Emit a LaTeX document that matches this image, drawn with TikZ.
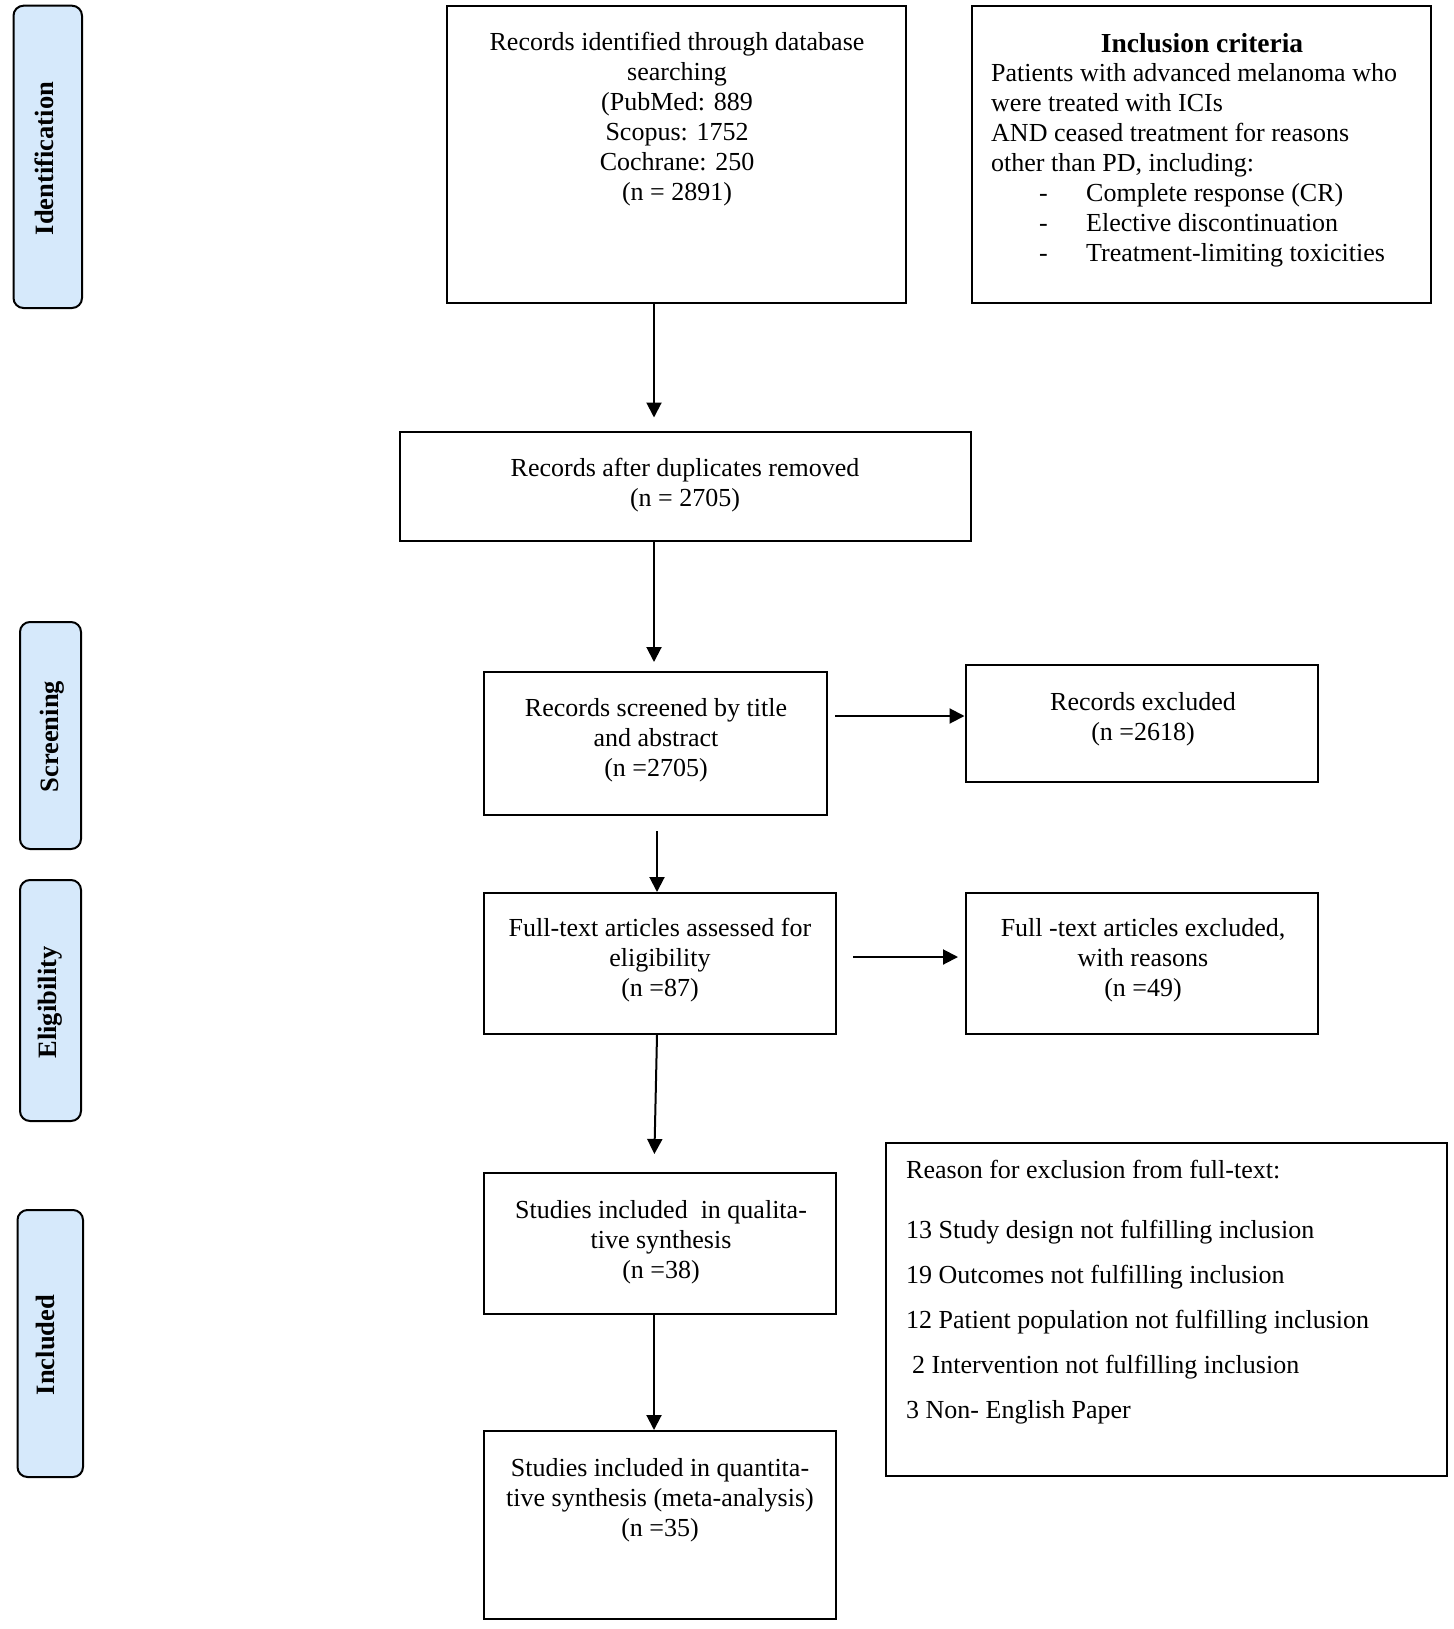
\documentclass[tikz,border=0pt]{standalone}
\usepackage{fontspec}
\setmainfont{Liberation Serif}
\usetikzlibrary{arrows.meta,fit}
\definecolor{phasefill}{RGB}{214,233,251}
\begin{document}
\begin{tikzpicture}[x=1pt,y=-1pt,
  box/.style={draw, line width=2pt, inner sep=0pt},
  phasebox/.style={draw, line width=2pt, fill=phasefill, rounded corners=10pt, inner sep=0pt},
  plabel/.style={font=\fontsize{26.5}{30}\selectfont\bfseries, rotate=90, anchor=base, inner sep=0pt},
  txt/.style={font=\fontsize{26}{30}\selectfont, align=center, inner sep=0pt, anchor=north},
  ltxt/.style={font=\fontsize{26}{30}\selectfont, align=left, inner sep=0pt, anchor=north west},
  arr/.style={line width=2pt, -{Triangle[length=15pt,width=15pt]}}
]
\useasboundingbox (0,0) rectangle (1453,1629);

% phase boxes
\node[phasebox, fit={(13.5,5.7) (82,308)}] (P1) {};
\node[phasebox, fit={(20,622) (81,849)}] (P2) {};
\node[phasebox, fit={(20,880) (81,1121)}] (P3) {};
\node[phasebox, fit={(17.5,1210) (83,1477)}] (P4) {};
\node[plabel] (L1) at (53,158.5) {Identification};
\node[plabel] (L2) at (58,736.7) {Screening};
\node[plabel] (L3) at (56,1002.5) {Eligibility};
\node[plabel] (L4) at (54.5,1345) {Included};

% boxes
\node[box, fit={(447,6) (906,302.5)}] (B1) {};
\node[box, fit={(972,6) (1431,302.5)}] (INC) {};
\node[box, fit={(400,432) (971,541)}] (B2) {};
\node[box, fit={(484,672) (826.5,815)}] (B3) {};
\node[box, fit={(965.5,665) (1318,782)}] (EX1) {};
\node[box, fit={(484,893) (836,1034)}] (B4) {};
\node[box, fit={(965.5,893) (1318,1034)}] (EX2) {};
\node[box, fit={(484,1173) (836,1314)}] (B5) {};
\node[box, fit={(484,1431) (836,1619)}] (B6) {};
\node[box, fit={(886,1143) (1447,1476)}] (RS) {};

% texts
\node[txt] (T1) at (677,30) {\rule{0pt}{20pt}Records identified through database\\searching\\(PubMed: 889\\Scopus: 1752\\Cochrane: 250\\(n = 2891)};
\node[txt, font=\fontsize{27.5}{30}\selectfont\bfseries] (TI) at (1202,32) {\rule{0pt}{20pt}Inclusion criteria};
\node[ltxt] (TP) at (991,61.7) {\rule{0pt}{20pt}Patients with advanced melanoma who\\were treated with ICIs\\AND ceased treatment for reasons\\other than PD, including:};
\node[ltxt] (TB) at (1039,181.7) {\rule{0pt}{20pt}\makebox[47pt][l]{-}Complete response (CR)\\\makebox[47pt][l]{-}Elective discontinuation\\\makebox[47pt][l]{-}Treatment-limiting toxicities};
\node[txt] (T2) at (685,456) {\rule{0pt}{20pt}Records after duplicates removed\\(n = 2705)};
\node[txt] (T3) at (656,696) {\rule{0pt}{20pt}Records screened by title\\and abstract\\(n =2705)};
\node[txt] (TX1) at (1143,690) {\rule{0pt}{20pt}Records excluded\\(n =2618)};
\node[txt] (T4) at (660,916) {\rule{0pt}{20pt}Full-text articles assessed for\\eligibility\\(n =87)};
\node[txt] (TX2) at (1143,916) {\rule{0pt}{20pt}Full -text articles excluded,\\with reasons\\(n =49)};
\node[txt] (T5) at (661,1198.5) {\rule{0pt}{20pt}Studies included~ in qualita-\\tive synthesis\\(n =38)};
\node[txt] (T6) at (660,1456) {\rule{0pt}{20pt}Studies included in quantita-\\tive synthesis (meta-analysis)\\(n =35)};
\node[ltxt, font=\fontsize{26}{45}\selectfont] (TR) at (906,1158) {\rule{0pt}{20pt}Reason for exclusion from full-text:\\[15pt]13 Study design not fulfilling inclusion\\19 Outcomes not fulfilling inclusion\\12 Patient population not fulfilling inclusion\\\hspace*{6pt}2 Intervention not fulfilling inclusion\\3 Non- English Paper};

% connector columns
\coordinate (A1) at (654,0);
\coordinate (A3) at (657,0);
\coordinate (A4) at (654,0);
\coordinate (H1) at (0,716);
\coordinate (H2) at (0,957);

% arrows
\draw[arr, shorten >=13.5pt] (B1.south -| A1) -- (B2.north -| A1);
\draw[arr, shorten >=9pt] (B2.south -| A1) -- (B3.north -| A1);
\draw[arr, shorten <=15pt] (B3.south -| A3) -- (B4.north -| A3);
\draw[arr, shorten <=7.5pt] (B3.east |- H1) -- (EX1.west |- H1);
\draw[arr, shorten <=16pt, shorten >=6.5pt] (B4.east |- H2) -- (EX2.west |- H2);
\draw[arr, shorten >=18pt] (B4.south -| A3) -- (B5.north -| A4);
\draw[arr] (B5.south -| A4) -- (B6.north -| A4);
\end{tikzpicture}
\end{document}
